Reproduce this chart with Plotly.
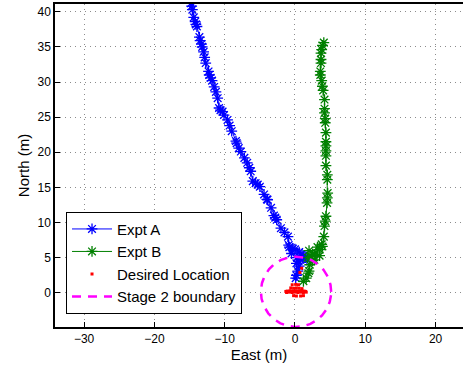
import numpy as np
import plotly.graph_objects as go

# Expt A trajectory (East, North) in metres
expt_a_east = [-14.8, -14.7, -14.6, -14.4, -14.2, -14.1, -13.95, -13.6, -13.5, -13.3, -13.2, -13.0,
               -12.85, -12.7, -12.3, -12.2, -12.0, -11.8, -11.5, -11.25, -11.0, -10.8, -10.6, -10.3,
               -10.1, -9.6, -9.3, -9.0, -8.4, -8.3, -8.0, -7.7, -7.2, -6.8, -6.5, -6.3, -6.0, -5.6,
               -5.3, -5.0, -4.4, -4.0, -3.9, -3.4, -3.0, -2.8, -2.6, -2.0, -1.5, -1.0, -0.9, -0.8,
               -0.5, -0.3, 0.0, 0.6, 1.0, 1.5, 1.7, 1.2, 0.3, 0.8, 0.5, 0.2, 0.6, 0.4, 0.2, 0.1]
expt_a_north = [41.2, 40.8, 40.3, 39.2, 38.6, 38.2, 37.9, 36.4, 35.9, 35.4, 35.0, 34.3,
                33.5, 32.7, 31.5, 31.0, 30.6, 30.2, 29.3, 28.6, 27.7, 26.3, 26.0, 25.8,
                25.3, 24.6, 23.8, 23.0, 21.6, 21.3, 20.6, 20.1, 19.2, 18.5, 17.8, 17.3, 15.9, 15.6,
                15.4, 15.1, 14.0, 13.3, 13.25, 12.1, 11.0, 10.7, 10.4, 9.2, 8.6, 8.0, 6.8, 6.5,
                5.6, 6.3, 6.2, 5.8, 5.5, 5.0, 4.7, 5.3, 5.0, 4.8, 4.5, 4.2, 3.8, 3.1, 2.5, 2.1]

# Expt B trajectory
expt_b_east = [4.1, 3.9, 3.8, 3.7, 3.7, 3.7, 3.6, 3.6, 3.8, 3.9, 4.0, 4.2, 4.2, 4.2, 4.3, 4.3,
               4.4, 4.4, 4.4, 4.4, 4.4, 4.4, 4.6, 4.6, 4.65, 4.6, 4.56, 4.4, 4.3, 4.2, 4.1,
               3.9, 3.8, 3.2, 3.5, 3.0, 2.0, 2.5, 3.5, 1.8, 2.3, 2.75, 2.5, 2.1, 2.0, 1.9, 1.6, 1.2]
expt_b_north = [35.6, 35.2, 34.6, 34.1, 33.2, 32.7, 31.5, 31.0, 30.2, 29.4, 28.8, 27.5, 26.2, 25.6, 24.8, 24.2,
                22.8, 21.5, 20.9, 20.2, 19.5, 18.1, 16.8, 16.1, 14.2, 13.5, 12.8, 10.9, 10.2, 9.5, 8.0,
                6.6, 6.9, 6.5, 6.15, 5.7, 6.0, 5.5, 5.3, 5.0, 5.2, 4.7, 4.6, 4.0, 3.1, 2.8, 2.1, 1.65]

# Desired location estimates
desired_east = [-1.3, -1.1, -0.9, -0.7, -0.5, -0.3, -0.1, 0.1, 0.3, 0.5, 0.7, 0.9, 1.1, 1.3, 1.5,
                -1.2, -0.8, -0.4, 0.0, 0.4, 0.8, 1.2, 1.6,
                -0.6, -0.2, 0.2, 0.6, 1.0,
                -0.4, 0.1, 0.5,
                -0.2, 0.2, 0.8, 1.2, 0.95, 0.7]
desired_north = [0.2, 0.25, 0.2, 0.3, 0.2, 0.25, 0.2, 0.3, 0.2, 0.25, 0.2, 0.3, 0.2, 0.25, 0.2,
                  0.05, 0.1, 0.05, 0.1, 0.05, 0.1, 0.05, 0.1,
                  0.7, 0.65, 0.7, 0.65, 0.6,
                  1.15, 1.2, 1.15,
                  -0.4, -0.45, -0.45, -0.4, 3.5, 2.9]

# Stage 2 boundary circle
boundary_center = (0.15, 0.15)
boundary_radius = 5.0
theta = np.linspace(0, 2 * np.pi, 361)
circ_x = boundary_center[0] + boundary_radius * np.cos(theta)
circ_y = boundary_center[1] + boundary_radius * np.sin(theta)

x_ticks = [-30, -20, -10, 0, 10, 20]
x_tick_text = ["\u221230", "\u221220", "\u221210", "0", "10", "20"]
y_ticks = [0, 5, 10, 15, 20, 25, 30, 35, 40]

fig = go.Figure()
fig.add_trace(go.Scatter(x=expt_a_east, y=expt_a_north, mode="lines+markers", name="Expt A",
                         line=dict(color="rgb(0,0,255)", width=1),
                         marker=dict(symbol="asterisk-open", size=9, color="rgb(0,0,255)",
                                     line=dict(color="rgb(0,0,255)", width=1.3))))
fig.add_trace(go.Scatter(x=expt_b_east, y=expt_b_north, mode="lines+markers", name="Expt B",
                         line=dict(color="rgb(0,128,0)", width=1),
                         marker=dict(symbol="asterisk-open", size=9, color="rgb(0,128,0)",
                                     line=dict(color="rgb(0,128,0)", width=1.3))))
fig.add_trace(go.Scatter(x=desired_east, y=desired_north, mode="markers", name="Desired Location",
                         marker=dict(symbol="square", size=3, color="rgb(255,0,0)")))
fig.add_trace(go.Scatter(x=circ_x, y=circ_y, mode="lines", name="Stage 2 boundary",
                         line=dict(color="rgb(255,0,255)", width=2.5, dash="9px,7px")))

axis_font = dict(family="Liberation Sans, Arial, sans-serif", size=12, color="black")
fig.update_layout(
    width=463, height=369,
    margin=dict(l=55, r=0, t=4, b=42),
    paper_bgcolor="white", plot_bgcolor="white",
    font=dict(family="Liberation Sans, Arial, sans-serif", size=15, color="black"),
    showlegend=True,
    legend=dict(x=0.027, y=0.357, xanchor="left", yanchor="top",
                bgcolor="white", bordercolor="black", borderwidth=1,
                font=dict(size=15), itemwidth=40, tracegroupgap=0),
    xaxis=dict(range=[-34.14, 23.9], tickvals=x_ticks, ticktext=x_tick_text,
               showgrid=True, gridcolor="rgb(140,140,140)", griddash="1px,4px", gridwidth=1,
               zeroline=False, showline=True, linecolor="black", linewidth=1.5, mirror=True,
               ticks="inside", ticklen=5, tickcolor="black", tickfont=axis_font,
               automargin=False,
               title=dict(text="East (m)", font=dict(size=15), standoff=4)),
    yaxis=dict(range=[-4.86, 41.1], tickvals=y_ticks,
               showgrid=True, gridcolor="rgb(140,140,140)", griddash="1px,4px", gridwidth=1,
               zeroline=False, showline=True, linecolor="black", linewidth=1.5, mirror=False,
               ticks="inside", ticklen=5, tickcolor="black", tickfont=axis_font,
               automargin=False,
               title=dict(text="North (m)", font=dict(size=15), standoff=4)),
)

fig.write_html("out.html", config={"displayModeBar": False},
               post_script="document.body.style.margin='0';document.body.style.overflow='hidden';")
